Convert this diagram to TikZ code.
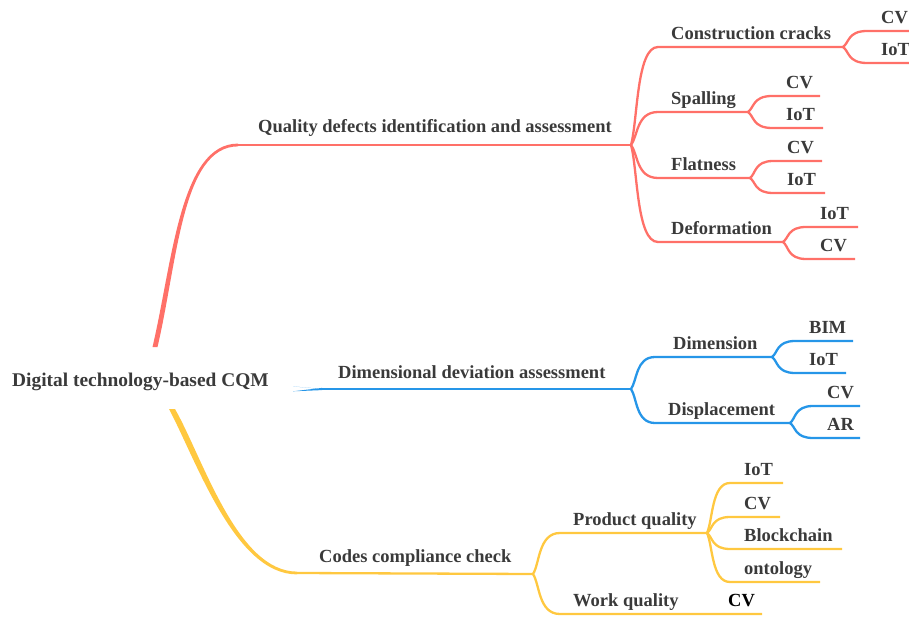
\documentclass[tikz,border=0pt]{standalone}
\usepackage{fontspec}
\setmainfont{Liberation Serif}
\usetikzlibrary{calc}

\definecolor{redb}{RGB}{255,112,104}
\definecolor{blueb}{RGB}{38,150,232}
\definecolor{yelb}{RGB}{255,200,64}
\definecolor{txt}{RGB}{58,58,58}

\tikzset{
  lbl/.style={anchor=base west, inner sep=0pt, text=txt, font=\bfseries\fontsize{18.5}{22}\selectfont},
  stem/.style={line width=2.3pt},
  twig/.style={to path={.. controls ($(\tikztostart)!0.25!(\tikztotarget)$) and ($(\tikztostart|-\tikztotarget)!0.2!(\tikztotarget)$) .. (\tikztotarget)}},
}

\begin{document}
\begin{tikzpicture}[x=1pt,y=-1pt]
\useasboundingbox (0,0) rectangle (909,617);

\node[lbl, font=\bfseries\fontsize{19.4}{22}\selectfont] (root) at (12,386) {Digital technology-based CQM};

% main branches
\coordinate (R) at (631,145);
\coordinate (B) at (631,389);
\coordinate (Y) at (533,574);
\coordinate (r1) at (238,145);
\coordinate (b1) at (322,389);
\coordinate (y1) at (297,573);
\fill[redb] (152.5,347) .. controls (172.5,262) and (180,143.6) .. (238,143.6) -- (238,146.4) .. controls (182,146.4) and (177.5,262) .. (157.5,347) -- cycle;
\fill[blueb] (293,386.4) -- (b1) ++(0,-1.1) -- ++(0,2.2) -- (293,391.3) -- cycle;
\fill[yelb] (169,409) .. controls (197,462) and (235,574.4) .. (297,574.4) -- (297,571.6) .. controls (237,571.6) and (203,458) .. (175,409) -- cycle;
\draw[redb, stem] (r1) -- (R);
\draw[blueb, stem] (b1) -- (B);
\draw[yelb, stem] (y1) -- (Y);
\node[lbl] (qd) at (258,133) {Quality defects identification and assessment};
\node[lbl] (dd) at (338,378) {Dimensional deviation assessment};
\node[lbl] (cp) at (319,562) {Codes compliance check};

% second level
\foreach \c/\h/\n/\x/\y/\e/\lx/\t in {
  redb/R/cc/658/47/843/671/Construction cracks,
  redb/R/sp/658/112/748/671/Spalling,
  redb/R/fl/658/178/750/671/Flatness,
  redb/R/de/658/242/783/671/Deformation,
  blueb/B/dm/655/357/772/673/Dimension,
  blueb/B/dp/655/423/790/668/Displacement,
  yelb/Y/pq/560/533/707/573/Product quality,
  yelb/Y/wq/560/614/762/573/Work quality} {
  \coordinate (\n a) at (\x,\y);
  \coordinate (\n) at (\e,\y);
  \draw[\c, stem] (\h) to[twig] (\n a) -- (\n);
  \node[lbl] (\n t) at (\lx,\y-7.5) {\t};
}
\node[lbl, text=black] (wq1t) at (728,606.5) {CV};

% leaves
\foreach \c/\h/\n/\x/\y/\e/\t in {
  redb/cc/cc1/867/31/909/CV,
  redb/cc/cc2/867/63/909/IoT,
  redb/sp/sp1/772/96/820/CV,
  redb/sp/sp2/772/128/823/IoT,
  redb/fl/fl1/773/161/822/CV,
  redb/fl/fl2/773/193/825/IoT,
  redb/de/de1/806/227/858/IoT,
  redb/de/de2/806/259/855/CV,
  blueb/dm/dm1/795/341/853/BIM,
  blueb/dm/dm2/795/373/846/IoT,
  blueb/dp/dp1/813/406/860/CV,
  blueb/dp/dp2/813/438/860/AR,
  yelb/pq/pq1/730/483/783/IoT,
  yelb/pq/pq2/730/517/780/CV,
  yelb/pq/pq3/730/549/842/Blockchain,
  yelb/pq/pq4/730/582/820/ontology} {
  \coordinate (\n a) at (\x,\y);
  \coordinate (\n) at (\e,\y);
  \draw[\c, stem] (\h) to[twig] (\n a) -- (\n);
  \node[lbl] (\n t) at (\x+14,\y-7.5) {\t};
}
\end{tikzpicture}
\end{document}
